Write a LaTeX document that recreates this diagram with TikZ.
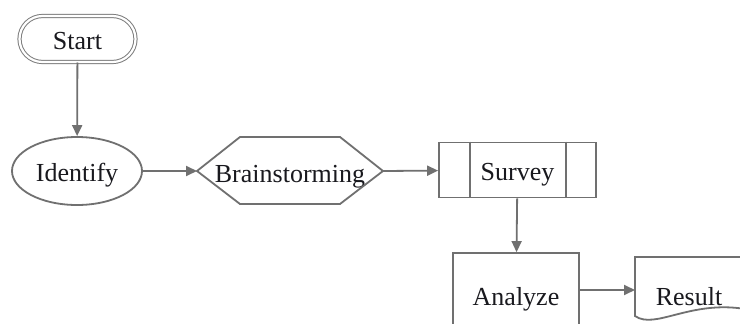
\documentclass[tikz,border=0pt]{standalone}
\usepackage{fontspec}
\setmainfont{Liberation Serif}
\usetikzlibrary{arrows.meta,shapes.geometric,calc}
\definecolor{lc}{RGB}{112,112,112}
\definecolor{lc2}{RGB}{125,125,125}
\definecolor{tc}{RGB}{25,25,30}
\begin{document}
\begin{tikzpicture}[x=1pt,y=-1pt,
  every node/.style={font=\fontsize{26}{30}\selectfont, text=tc, inner sep=0pt,
                     text height=21pt, text depth=0pt},
  ln/.style={draw=lc, line width=1.8pt},
  arr/.style={draw=lc, line width=1.8pt, -{Triangle[length=11pt,width=10pt]}},
  boxed/.style={ln, fill=white, rectangle}]
\useasboundingbox (0,0) rectangle (740,324);
\clip (0,0) rectangle (740,324);
\fill[white] (0,0) rectangle (740,324);
% Start
\node[draw=lc2, line width=1pt, double=white, double distance=2.2pt,
      rounded corners=23pt, minimum width=116pt, minimum height=46pt] (st) at (77.5,39) {Start};
% Identify
\node[ln, ellipse, minimum width=130pt, minimum height=68pt] (id) at (77,171) {Identify};
% Brainstorming hexagon
\node (bs) at (290,172) {Brainstorming};
\coordinate (bsL) at (197,171);
\coordinate (bsR) at (383,171);
\draw[ln, line join=miter] (240,137) -- (340,137) -- (bsR) -- (340,204) -- (240,204) -- (bsL) -- cycle;
% Survey
\node[boxed, minimum width=157pt, minimum height=55pt] (sv) at (517.5,170) {Survey};
\draw[ln] ($(sv.north west)+(32,0)$) -- ($(sv.south west)+(32,0)$);
\draw[ln] ($(sv.north east)+(-31,0)$) -- ($(sv.south east)+(-31,0)$);
% Analyze
\node[boxed, minimum width=126pt, minimum height=83pt] (an) at (516,294.5) {Analyze};
% Result document
\coordinate (rsL) at (635,290);
\draw[ln, fill=white] (760,316) -- (760,257) -- (635,257) -- (635,316)
   .. controls (655,330) and (690,300) .. (745,309);
\node (rs) at (689,294.5) {Result};
% connectors
\draw[arr] (st) -- (id);
\draw[arr] (id) -- (bsL);
\draw[arr] (bsR) -- (sv);
\draw[arr] (sv) -- (an);
\draw[arr] (an.east |- rsL) -- (rsL);
\end{tikzpicture}
\end{document}
